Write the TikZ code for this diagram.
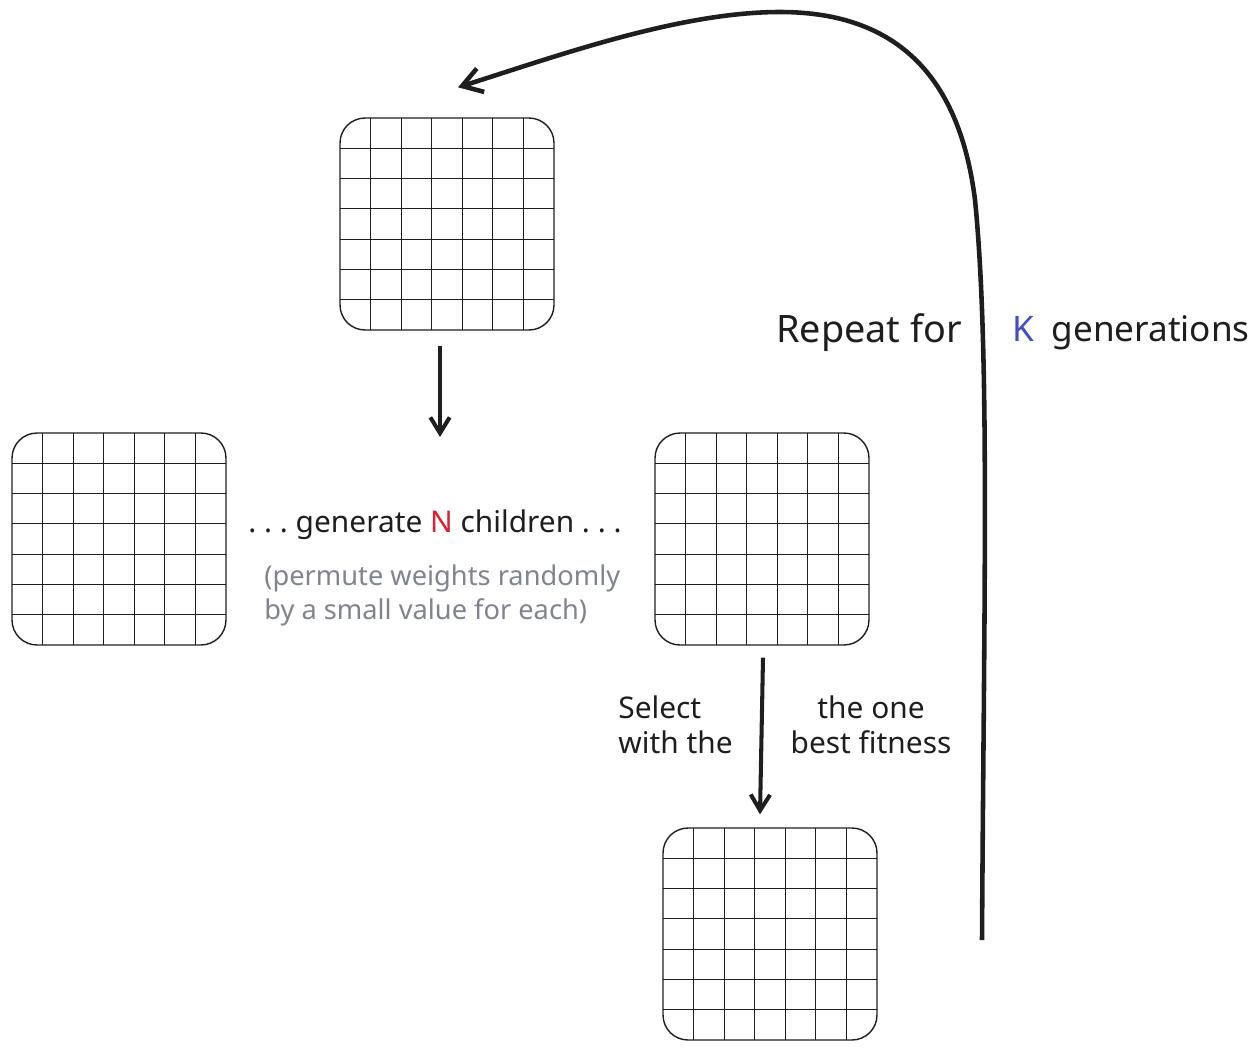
\documentclass[tikz,border=0pt]{standalone}
\usepackage{fontspec}
\setmainfont{Noto Sans}
\usetikzlibrary{arrows.meta,calc,positioning}
\definecolor{ink}{RGB}{30,30,30}
\definecolor{kblue}{RGB}{66,78,196}
\definecolor{nred}{RGB}{224,30,50}
\definecolor{notegray}{RGB}{128,132,140}

\begin{document}
\begin{tikzpicture}[x=0.02cm, y=-0.02cm,
    net/.style={draw=ink, line width=0.8pt, rounded corners=0.5cm,
      minimum width=4.28cm, minimum height=4.24cm, inner sep=0pt,
      path picture={
        \foreach \f in {1,...,6} {
          \draw[ink, line width=0.7pt]
            ($(path picture bounding box.north west)!\f/7!(path picture bounding box.north east)$) --
            ($(path picture bounding box.south west)!\f/7!(path picture bounding box.south east)$);
          \draw[ink, line width=0.7pt]
            ($(path picture bounding box.north west)!\f/7!(path picture bounding box.south west)$) --
            ($(path picture bounding box.north east)!\f/7!(path picture bounding box.south east)$);
        }}},
    flow/.style={draw=ink, line width=2.3pt, -{Straight Barb[length=9pt, width=11pt]}},
    txt/.style={font=\fontsize{17}{20}\selectfont, text=ink, inner sep=0pt},
  ]
    \useasboundingbox (0,0) rectangle (1260,1052);

    % weight grids
    \node[net] (parent) at (447,224) {};
    \node[net] (child1) at (119,539) {};
    \node[net] (childN) at (762,539) {};
    \node[net] (best) at (770,934) {};

    % texts
    \node[txt] (gen) at (435,525) {.\ .\ .\ generate \textcolor{nred}{N} children .\ .\ .};
    \node[txt, font=\fontsize{15.5}{19.5}\selectfont, text=notegray, align=left, anchor=north west] (note) at (264,564)
      {(permute weights randomly\\by a small value for each)};
    \node[txt, align=left, anchor=west] (sel) at (618,725) {Select\\with the};
    \node[txt, align=center] (fit) at (871,725) {the one\\best fitness};
    \node[txt, font=\fontsize{21.5}{25}\selectfont, anchor=east] (rep) at (962,333) {Repeat for};
    \node[txt, font=\fontsize{20}{24}\selectfont, anchor=west] (kgen) at (1012,333)
      {\textcolor{kblue}{K}\hspace{0.5em}generations};

    % arrows
    \coordinate (mid) at (440,437);
    \coordinate (loopstart) at (982,940);
    \draw[flow] ([shift={(-7,15)}]parent.south) -- (mid);
    \draw[flow] ([shift={(1,12)}]childN.south) -- ([shift={(-10,-13)}]best.north);
    \draw[flow, line width=2.6pt, -{Straight Barb[length=11pt, width=14pt]}] (loopstart)
      .. controls (984,600) and (990,350) .. (975,200)
      .. controls (960,80) and (900,12) .. (780,12)
      .. controls (680,12) and (560,55) .. ([shift={(11,-30)}]parent.north);
\end{tikzpicture}
\end{document}
